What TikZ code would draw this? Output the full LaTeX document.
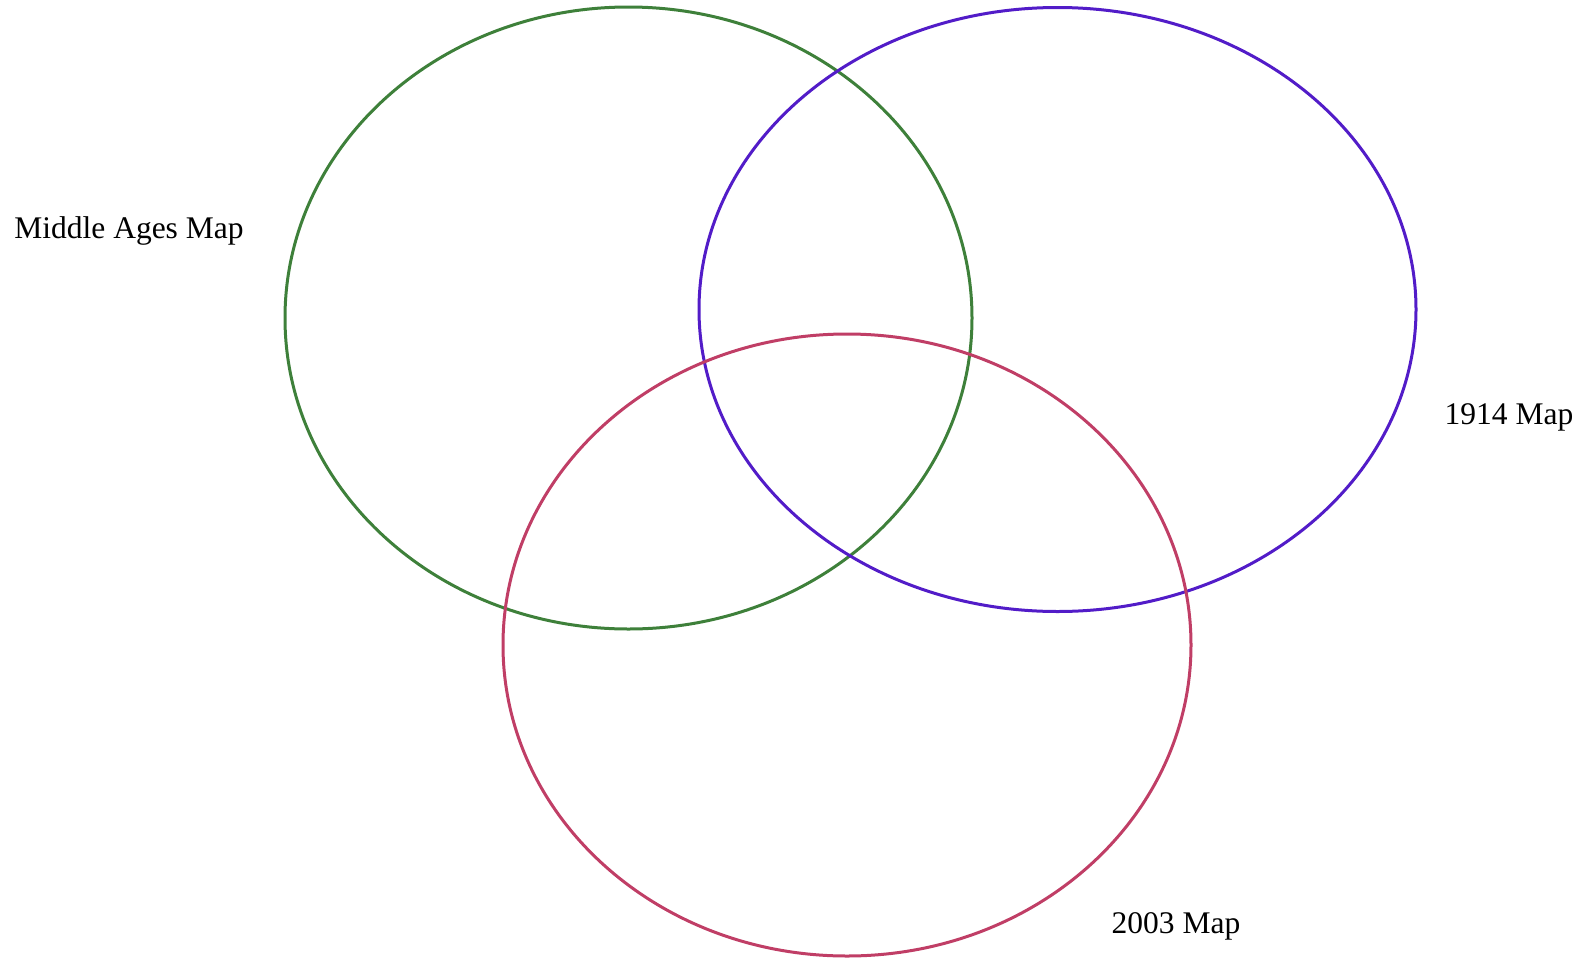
\documentclass[tikz,border=0pt]{standalone}
\usepackage{fontspec}
\setmainfont{Liberation Serif}
\definecolor{vgreen}{RGB}{62,128,58}
\definecolor{vblue}{RGB}{82,28,200}
\definecolor{vpink}{RGB}{192,62,102}
\begin{document}
\begin{tikzpicture}[x=1pt,y=-1pt,
  ring/.style={line width=3pt},
  lbl/.style={font=\fontsize{31.5}{36}\selectfont, inner sep=0pt}]
\useasboundingbox (0,0) rectangle (1583,959);
\draw[ring, vgreen] (628.5,318) ellipse [x radius=343.5, y radius=311];
\draw[ring, vblue] (1057.5,309.5) ellipse [x radius=358.5, y radius=302];
\draw[ring, vpink] (847,645) ellipse [x radius=344, y radius=311];
\node[lbl] (mid) at (129,231) {Middle Ages Map};
\node[lbl] (m1914) at (1509,417) {1914 Map};
\node[lbl] (m2003) at (1176,926) {2003 Map};
\end{tikzpicture}
\end{document}
